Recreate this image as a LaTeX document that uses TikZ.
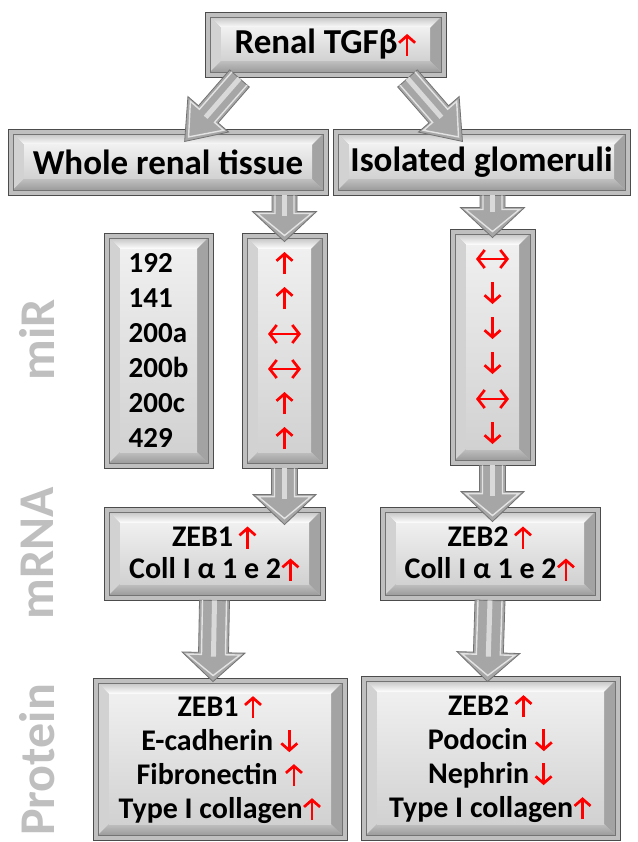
\documentclass[tikz,border=0pt]{standalone}
\usepackage{fontspec}
\setmainfont{Carlito}
\usetikzlibrary{calc,arrows.meta}
\tikzset{
  redarr/.style={draw=red, line width=2.7pt, -{Straight Barb[length=7pt,width=16pt]}},
  redharr/.style={draw=red, line width=2.7pt, {Straight Barb[length=7pt,width=18pt]}-{Straight Barb[length=7pt,width=18pt]}},
  bev/.style={draw=black!70, line width=0.9pt, fill=gray!50, inner sep=0pt, align=center,
    font=\bfseries\fontsize{30}{34}\selectfont,
    path picture={
      \coordinate (bvA) at ($(path picture bounding box.north west)+(5pt,-5pt)$);
      \coordinate (bvB) at ($(path picture bounding box.south east)+(-5pt,5pt)$);
      \coordinate (bvC) at ($(path picture bounding box.north west)+(16pt,-16pt)$);
      \coordinate (bvD) at ($(path picture bounding box.south east)+(-16pt,16pt)$);
      \shade[top color=gray!45, bottom color=white] (bvA) -- (bvA -| bvB) -- (bvC -| bvD) -- (bvC) -- cycle;
      \fill[gray!35] (bvA) -- (bvC) -- (bvC |- bvD) -- (bvA |- bvB) -- cycle;
      \fill[gray!72] (bvA -| bvB) -- (bvB) -- (bvD) -- (bvC -| bvD) -- cycle;
      \shade[top color=gray!50, bottom color=gray!78] (bvA |- bvB) -- (bvB) -- (bvD) -- (bvC |- bvD) -- cycle;
      \shade[top color=gray!12, bottom color=gray!36] (bvC) rectangle (bvD);
      \draw[black!55, line width=0.7pt] (bvA) rectangle (bvB);
    }},
  hd/.style={font=\bfseries\fontsize{35}{40}\selectfont},
  side/.style={rotate=90, text=gray!50, font=\bfseries\fontsize{50}{50}\selectfont},
  arrowout/.style={fill=gray!70, draw=black!55, line width=0.8pt},
  arrowin/.style={draw=gray!22, line width=1.4pt},
  arrowhi/.style={fill=white!70!gray},
}
\newcommand\uar{\tikz[baseline=0pt]\draw[redarr] (0pt,-2pt) -- (0pt,20pt);}
\newcommand\dar{\tikz[baseline=0pt]\draw[redarr] (0pt,20pt) -- (0pt,-2pt);}
\newcommand\har{\tikz[baseline=0pt]\draw[redharr] (0pt,8pt) -- (33pt,8pt);}
% block arrow: start, end, shaft width, head width, head length
\newcommand\blockarrow[5]{%
  \path (#1); \pgfgetlastxy{\bax}{\bay}%
  \path (#2); \pgfgetlastxy{\bbx}{\bby}%
  \pgfmathsetmacro\baang{atan2(\bby-\bay,\bbx-\bax)}%
  \pgfmathsetmacro\balen{veclen(\bbx-\bax,\bby-\bay)}%
  \pgfmathsetmacro\bas{\balen-#5}%
  \begin{scope}[shift={(\bax,\bay)}, rotate=\baang, x=1pt, y=1pt]
    \draw[arrowout] (0,-#3/2) -- (\bas,-#3/2) -- (\bas,-#4/2) -- (\balen,0) -- (\bas,#4/2) -- (\bas,#3/2) -- (0,#3/2) -- cycle;
    \draw[arrowin] (0,-#3/2+3) -- (\bas+2,-#3/2+3) -- (\bas+2,-#4/2+5) -- (\balen-6,0) -- (\bas+2,#4/2-5) -- (\bas+2,#3/2-3) -- (0,#3/2-3);
    \fill[arrowhi] (0,-2.5) rectangle (\bas+4,2.5);
  \end{scope}}
\begin{document}
\begin{tikzpicture}[x=1pt,y=-1pt]
\useasboundingbox[fill=white] (0,0) rectangle (637,842);
% side labels
\node[side] (lmir) at (37,340) {miR};
\node[side] (lmrna) at (37,553) {mRNA};
\node[side] (lprot) at (37,760) {Protein};
% boxes
\node[bev, hd, minimum width=241pt, minimum height=65pt] (top) at (325.5,44.5) {Renal TGFβ\uar};
\node[bev, hd, minimum width=320pt, minimum height=66pt] (whole) at (168,162) {Whole renal tissue};
\node[bev, hd, minimum width=297pt, minimum height=66pt] (iso) at (481.5,162) {Isolated glomeruli};
\node[bev, minimum width=109pt, minimum height=235pt, align=left, font=\bfseries\fontsize{29}{35}\selectfont] (nums) at (158.5,350.5) {192\\141\\200a\\200b\\200c\\429};
\node[bev, minimum width=85pt, minimum height=235pt, font=\bfseries\fontsize{28}{35}\selectfont] (colL) at (284.5,350.5) {\uar\\\uar\\\har\\\har\\\uar\\\uar};
\node[bev, minimum width=85pt, minimum height=236pt, font=\bfseries\fontsize{28}{35}\selectfont] (colR) at (492.5,347) {\har\\\dar\\\dar\\\dar\\\har\\\dar};
\node[bev, minimum width=221pt, minimum height=93pt, font=\bfseries\fontsize{30}{32}\selectfont] (mL) at (214.5,553.5) {ZEB1\,\uar\\Coll I α 1 e 2\uar};
\node[bev, minimum width=220pt, minimum height=93pt, font=\bfseries\fontsize{30}{32}\selectfont] (mR) at (490,553.5) {ZEB2\,\uar\\Coll I α 1 e 2\uar};
\node[bev, minimum width=254pt, minimum height=162pt] (pL) at (220,759) {ZEB1\,\uar\\E-cadherin \dar\\Fibronectin \uar\\Type I collagen\uar};
\node[bev, minimum width=259pt, minimum height=164pt] (pR) at (490.5,758) {ZEB2\,\uar\\Podocin \dar\\Nephrin\,\dar\\Type I collagen\uar};
% connectors
\coordinate (s1) at ($(top.south)+(-86,1)$);
\coordinate (e1) at ($(whole.north west)+(177,13)$);
\coordinate (s2) at ($(top.south)+(82,1)$);
\coordinate (e2) at ($(iso.north west)+(130,13)$);
\blockarrow{s1}{e1}{26}{54}{36}
\blockarrow{s2}{e2}{26}{54}{36}
\coordinate (s3) at (colL.north |- whole.south);
\coordinate (e3) at ($(colL.north)+(0,9)$);
\blockarrow{s3}{e3}{25}{64}{30}
\coordinate (s4) at (colR.north |- iso.south);
\coordinate (e4) at ($(colR.north)+(0,9)$);
\blockarrow{s4}{e4}{25}{64}{30}
\coordinate (s5) at (colL.south);
\coordinate (e5) at (colL.south |- {$(mL.north)+(0,18)$});
\blockarrow{s5}{e5}{26}{63}{30}
\coordinate (s6) at (colR.south);
\coordinate (e6) at (colR.south |- {$(mR.north)+(0,15)$});
\blockarrow{s6}{e6}{26}{63}{30}
\coordinate (s7) at (mL.south);
\coordinate (e7) at ($(pL.north)+(-7,4)$);
\blockarrow{s7}{e7}{30}{63}{29}
\coordinate (s8) at (mR.south);
\coordinate (e8) at ($(pR.north)+(-3,6)$);
\blockarrow{s8}{e8}{30}{63}{29}
\end{tikzpicture}
\end{document}
